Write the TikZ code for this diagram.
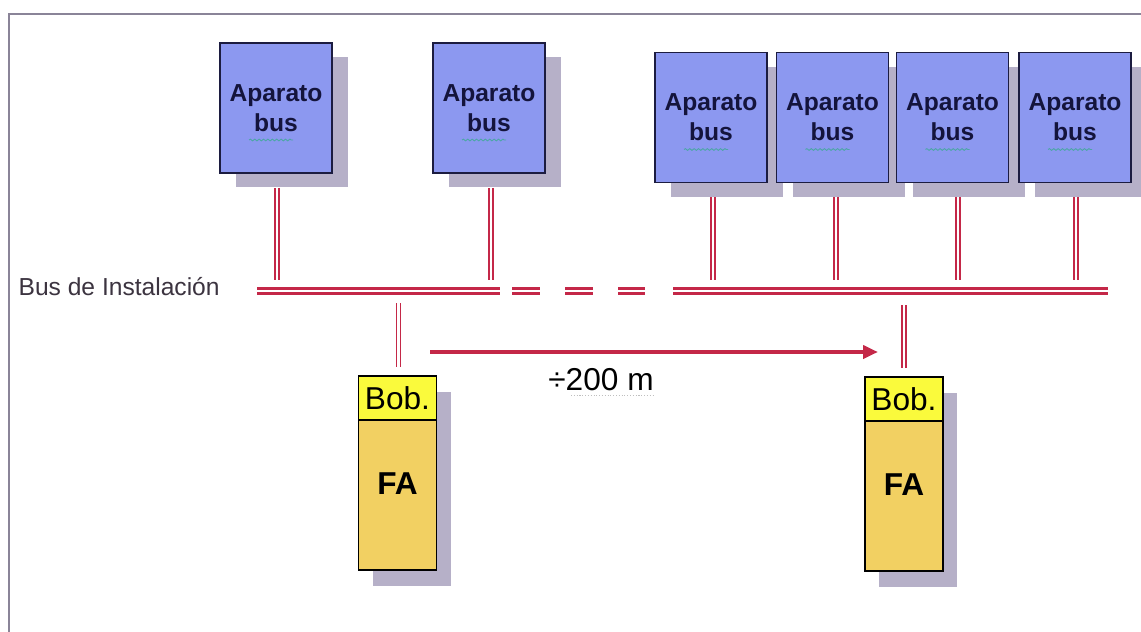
\documentclass[tikz,border=0pt]{standalone}
\usepackage{fontspec}
\setmainfont{Liberation Sans}
\usetikzlibrary{positioning, shadows, arrows.meta, decorations.pathmorphing}

\definecolor{devblue}{RGB}{140,152,240}
\definecolor{devedge}{RGB}{28,28,64}
\definecolor{devtext}{RGB}{20,20,60}
\definecolor{shade}{RGB}{182,176,200}
\definecolor{busred}{RGB}{196,40,72}
\definecolor{bobyellow}{RGB}{250,250,60}
\definecolor{fagold}{RGB}{242,208,98}
\definecolor{framegray}{RGB}{138,132,152}
\definecolor{labelgray}{RGB}{60,52,64}

\begin{document}
\begin{tikzpicture}[
    device/.style={draw=devedge, line width=1.1pt, fill=devblue, minimum width=2.24cm, minimum height=2.6cm, align=center, text=devtext, font=\fontsize{14}{17}\selectfont\bfseries, drop shadow={shadow xshift=0.32cm, shadow yshift=-0.28cm, fill=shade, opacity=1}},
    supply/.style={draw=black, line width=0.8pt, fill=fagold, minimum width=1.56cm, minimum height=3.88cm, inner sep=0pt, text height=0.86cm, font=\fontsize{18}{20}\selectfont\bfseries, drop shadow={shadow xshift=0.28cm, shadow yshift=-0.32cm, fill=shade, opacity=1}},
    coil/.style={draw=black, line width=0.8pt, fill=bobyellow, minimum width=1.56cm, minimum height=0.88cm, inner sep=0pt, font=\fontsize{18}{20}\selectfont},
    tap/.style={draw=busred, line width=1.0pt, double=white, double distance=1.4pt},
    busline/.style={draw=busred, line width=1.5pt, double=white, double distance=1.6pt},
    squiggle/.style={draw=teal!70, line width=0.5pt, decorate, decoration={snake, amplitude=0.5pt, segment length=2.5pt}}
]
    \useasboundingbox (0,0) rectangle (22.82,-12.64);
    \fill[white] (0,0) rectangle (22.82,-12.64);

    % Frame
    \draw[framegray, line width=1.1pt] (0.18,-12.64) -- (0.18,-0.28) -- (22.82,-0.28);

    % Aparatos bus
    \node[device] (ap1) at (5.52,-2.16) {Aparato\\bus};
    \node[device] (ap2) at (9.78,-2.16) {Aparato\\bus};
    \node[device] (ap3) at (14.22,-2.35) {Aparato\\bus};
    \node[device] (ap4) at (16.65,-2.35) {Aparato\\bus};
    \node[device] (ap5) at (19.05,-2.35) {Aparato\\bus};
    \node[device] (ap6) at (21.5,-2.35) {Aparato\\bus};
    \foreach \n in {ap1,ap2,ap3,ap4,ap5,ap6}
        \draw[squiggle] ([xshift=-0.54cm, yshift=-0.64cm]\n.center) -- ++(0.88,0);

    % Bus de Instalacion
    \coordinate (busA) at (5.14,-5.82);
    \coordinate (busB) at (10.0,-5.82);
    \coordinate (gapA) at (10.24,-5.82);
    \coordinate (gapB) at (12.9,-5.82);
    \coordinate (busC) at (13.46,-5.82);
    \coordinate (busD) at (22.16,-5.82);
    \draw[busline] (busA) -- (busB);
    \draw[busline, dash pattern=on 0.56cm off 0.5cm] (gapA) -- (gapB);
    \draw[busline] (busC) -- (busD);
    \node[font=\fontsize{14}{16}\selectfont, text=labelgray, inner sep=0pt, anchor=east] (buslabel) at ([xshift=-0.74cm, yshift=0.09cm]busA) {Bus de Instalación};

    % Derivaciones
    \coordinate (tapend) at (0,-5.6);
    \foreach \n/\dx in {ap1/0.02, ap2/0.04, ap3/0.04, ap4/0.07, ap5/0.11, ap6/0.02}
        \draw[tap] ([xshift=\dx cm, yshift=-0.28cm]\n.south) -- ([xshift=\dx cm]\n.south |- tapend);

    % Fuentes de alimentacion
    \node[supply] (fa1) at (7.95,-9.46) {FA};
    \node[coil, below=0pt of fa1.north] (bob1) {Bob.};
    \node[supply] (fa2) at (18.08,-9.48) {FA};
    \node[coil, below=0pt of fa2.north] (bob2) {Bob.};

    \coordinate (dropend) at (0,-6.06);
    \draw[tap] ([xshift=0.02cm]fa1.north |- dropend) -- ([xshift=0.02cm, yshift=0.16cm]fa1.north);
    \draw[tap] ([yshift=-0.04cm]fa2.north |- dropend) -- ([yshift=0.16cm]fa2.north);

    % Distancia
    \coordinate (spanA) at (8.6,-7.04);
    \coordinate (spanB) at (17.56,-7.04);
    \draw[-{Triangle[length=0.3cm, width=0.26cm]}, busred, line width=2.2pt] (spanA) -- (spanB);
    \node[font=\fontsize{18}{20}\selectfont, inner sep=0pt] (dist) at (12.02,-7.6) {÷200 m};
    \draw[gray!50, densely dotted, line width=0.6pt] ([xshift=0.46cm, yshift=-0.1cm]dist.base west) -- ([yshift=-0.1cm]dist.base east);
\end{tikzpicture}
\end{document}
